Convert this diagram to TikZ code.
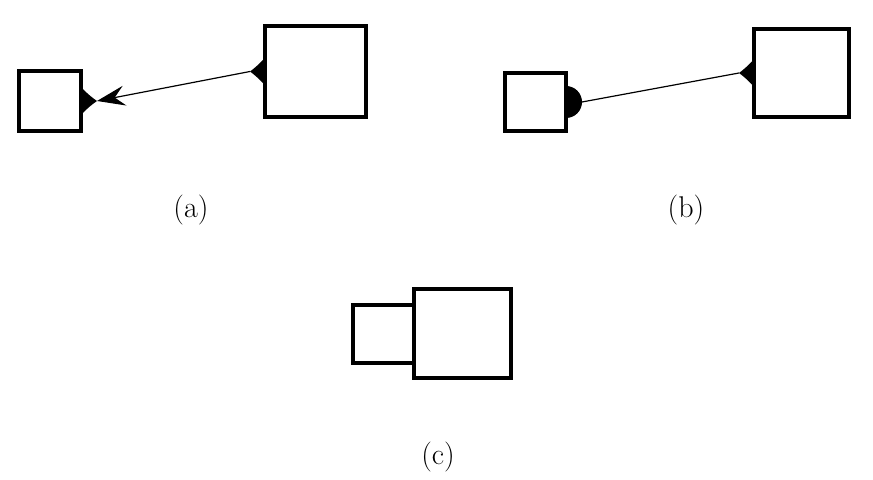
\documentclass[tikz,border=0pt]{standalone}
\usepackage{tikz}
\usetikzlibrary{arrows.meta}

\begin{document}
\begin{tikzpicture}[
    x=0.5pt, y=-0.5pt,
    >=Stealth,
    box/.style={draw, line width=2pt, fill=white, inner sep=0pt, outer sep=0pt},
    port/.style={fill=black},
    link/.style={line width=0.6pt},
    tag/.style={font=\fontsize{15}{18}\selectfont, anchor=base}
]
    \useasboundingbox (0,0) rectangle (873,480);

    % (a)
    \node[box, minimum width=31pt, minimum height=30pt] (smallA) at (50,101) {};
    \node[box, minimum width=50.5pt, minimum height=45.5pt] (bigA) at (315.5,71.5) {};
    \fill[port] (smallA.east) ++(0,-14) to[bend right=6] ++(16,14) coordinate (portA1)
        to[bend right=6] ++(-16,14) -- cycle;
    \fill[port] (bigA.west) ++(0,-14) to[bend left=6] ++(-15,14) coordinate (portA2)
        to[bend left=6] ++(15,14) -- cycle;
    \draw[link, <-, >={Stealth[length=14pt, width=10pt, inset=5pt]}] (portA1) -- (portA2);
    \node[tag] (tagA) at (191,217.5) {(a)};

    % (b)
    \node[box, minimum width=30.5pt, minimum height=29pt] (smallB) at (535.5,102) {};
    \node[box, minimum width=47.5pt, minimum height=44pt] (bigB) at (801.5,73) {};
    \fill[port] (smallB.east) ++(0,16) arc[start angle=90, end angle=-90, radius=16]
        -- cycle;
    \coordinate (portB1) at ([xshift=8pt]smallB.east);
    \fill[port] (bigB.west) ++(0,-14) to[bend left=6] ++(-15,14) coordinate (portB2)
        to[bend left=6] ++(15,14) -- cycle;
    \draw[link] (portB1) -- (portB2);
    \node[tag] (tagB) at (686,217.5) {(b)};

    % (c)
    \node[box, minimum width=48.5pt, minimum height=44.5pt] (bigC) at (462.5,333.5) {};
    \node[box, minimum width=30.5pt, minimum height=29pt, anchor=east] (smallC) at (bigC.west |- 0,334) {};
    \node[tag] (tagC) at (438,464.5) {(c)};
\end{tikzpicture}
\end{document}
